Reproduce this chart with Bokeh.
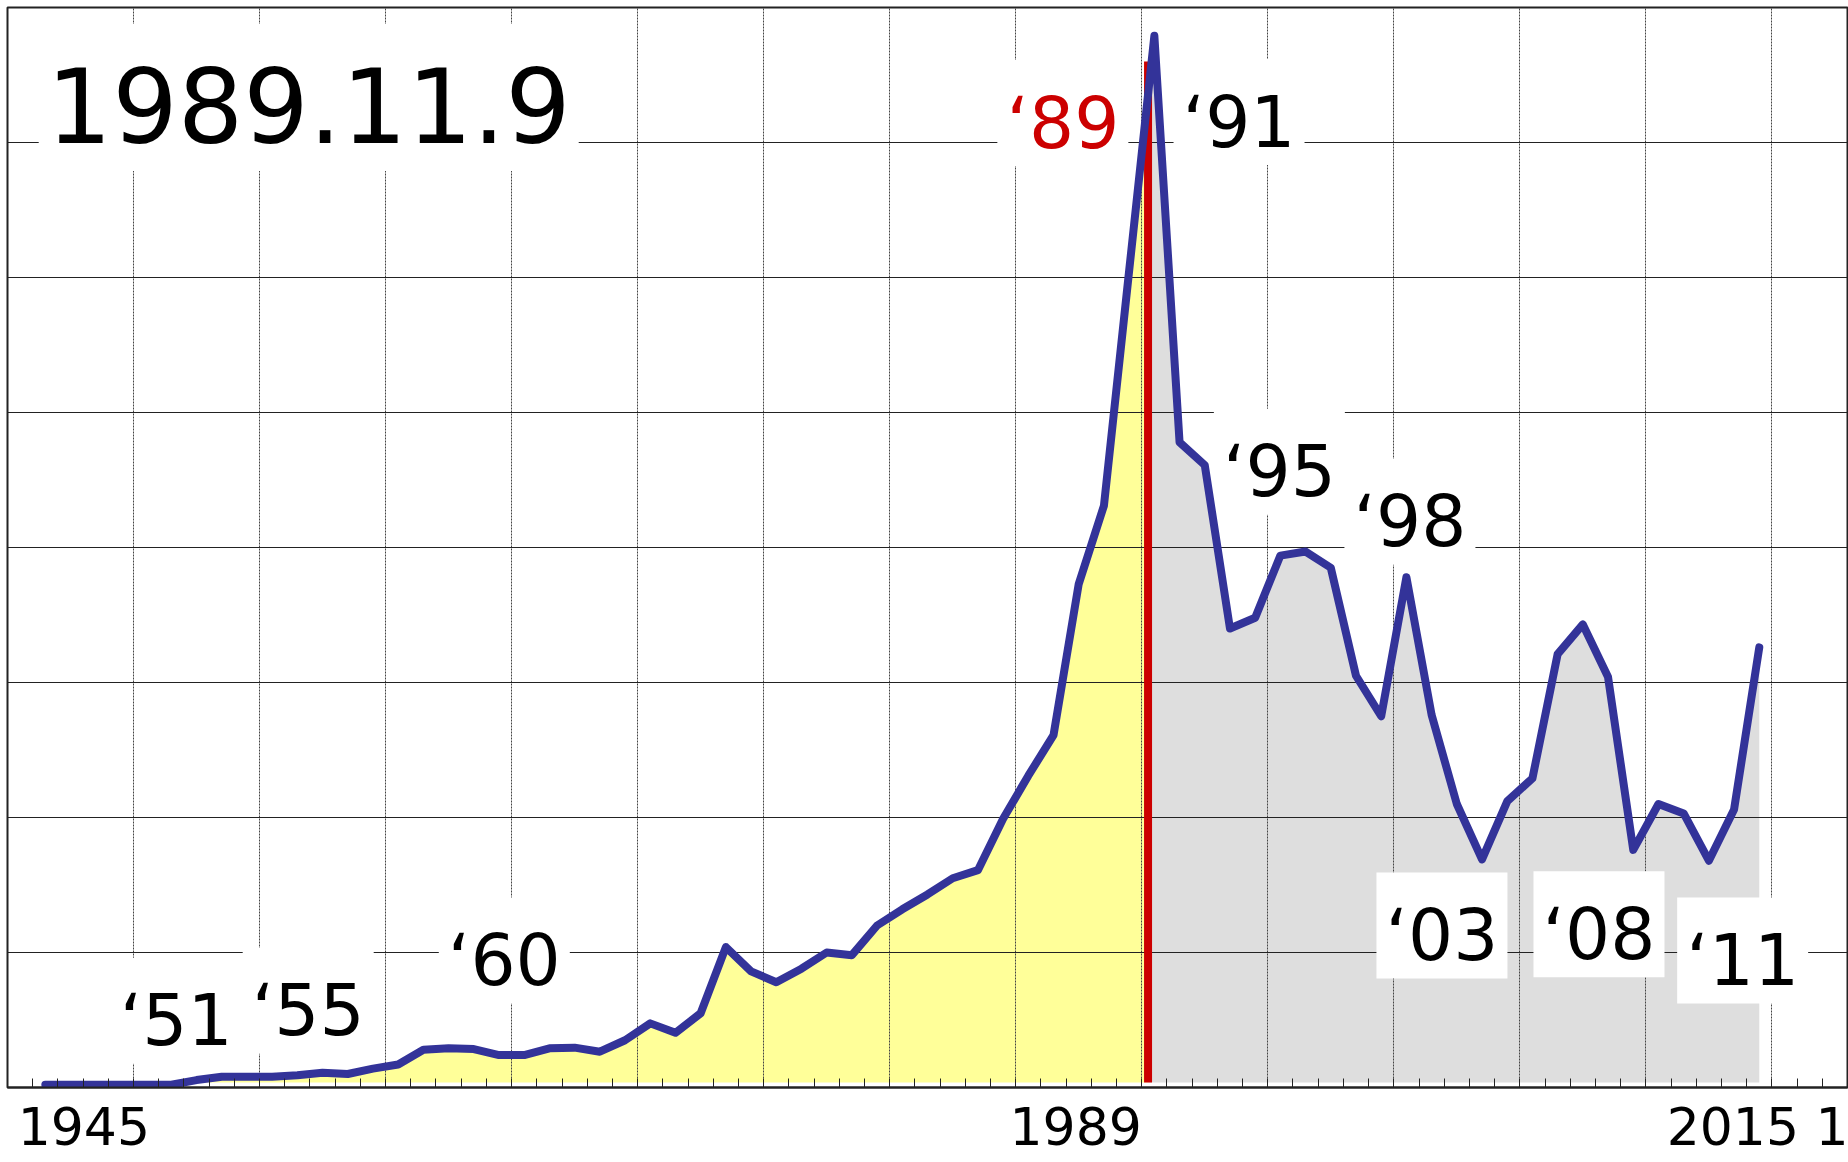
import numpy as np
from bokeh.plotting import figure
from bokeh.models import FixedTicker, Range1d, ColumnDataSource
from bokeh.core.properties import value
from bokeh.embed import file_html
from bokeh.resources import INLINE

# ---------------- data ----------------
years = list(range(1946, 2015))
values = [
    0.02, 0.02, 0.02, 0.02, 0.02, 0.02, 0.055, 0.08, 0.08, 0.08,      # 1946-1955
    0.09, 0.11, 0.10, 0.14, 0.17, 0.28, 0.29, 0.285, 0.24, 0.24,       # 1956-1965
    0.29, 0.295, 0.265, 0.35, 0.475, 0.405, 0.55, 1.04, 0.86, 0.78,    # 1966-1975
    0.88, 1.00, 0.98, 1.20, 1.32, 1.43, 1.55, 1.61, 1.99, 2.31,        # 1976-1985
    2.61, 3.73, 4.31, 6.05, 7.79, 4.78, 4.61, 3.40, 3.48, 3.94,        # 1986-1995
    3.97, 3.85, 3.05, 2.75, 3.78, 2.76, 2.10, 1.69, 2.12, 2.29,        # 1996-2005
    3.21, 3.43, 3.04, 1.76, 2.10, 2.03, 1.68, 2.06, 3.26,              # 2006-2014
]

x_start, x_end = 1945, 2018
grid_years = list(range(1950, 2016, 5))
tick_years = list(range(1946, 2018))
y_grid_values = [1, 2, 3, 4, 5, 6, 7]

axis_label_pos = [1948.03, 1987.38, 2013.45, 2017.4]
axis_label_text = ["1945", "1989", "2015", "1"]

wall_x = 1990.25      # red marker (1989.11.9)
wall_top = 7.6

label_text = ["\u201851", "\u201855", "\u201860", "\u201889", "\u201891",
              "\u201895", "\u201898", "\u201803", "\u201808", "\u201811"]
label_x = [1951.69, 1956.93, 1964.71, 1986.87, 1993.86,
           1995.46, 2000.64, 2001.91, 2008.14, 2013.84]
label_y = [0.324, 0.398, 0.770, 6.974, 6.981,
           4.391, 4.020, 0.955, 0.965, 0.770]
label_color = ["black", "black", "black", "#CC0000", "black",
               "black", "black", "black", "black", "black"]

title_text = "1989.11.9"
title_x = 1956.95
title_y = 6.974

# ---------------- derived geometry ----------------
px = np.array(years, dtype=float) + 0.5          # each year drawn at mid-year
vals = np.array(values, dtype=float)
base = 0.037

left_mask = px < wall_x
yx = np.concatenate([px[left_mask], [wall_x]])
yy = np.concatenate([vals[left_mask], [np.interp(wall_x, px, vals)]])
gx = np.concatenate([[wall_x], px[~left_mask]])
gy = np.concatenate([[np.interp(wall_x, px, vals)], vals[~left_mask]])

W, H = 1848, 1162
p = figure(width=W, height=H, x_range=Range1d(x_start, x_end), y_range=Range1d(0, 8),
           y_axis_location=None, toolbar_location=None, output_backend="svg",
           min_border_left=7, min_border_right=1, min_border_top=7, min_border_bottom=75)
p.background_fill_color = "white"
p.border_fill_color = "white"
p.outline_line_color = "#222222"
p.outline_line_width = 2

# grids
p.xgrid.ticker = FixedTicker(ticks=grid_years)
p.xgrid.grid_line_color = "#444444"
p.xgrid.grid_line_dash = "2 1"
p.xgrid.grid_line_width = 1
p.ygrid.ticker = FixedTicker(ticks=y_grid_values)
p.ygrid.grid_line_color = "#222222"
p.ygrid.grid_line_width = 1

# x axis
ax = p.xaxis[0]
ax.ticker = FixedTicker(ticks=axis_label_pos, minor_ticks=tick_years)
ax.major_label_overrides = dict(zip(axis_label_pos, axis_label_text))
ax.major_label_text_font = "DejaVu Sans"
ax.major_label_text_font_size = "52px"
ax.major_label_text_color = "black"
ax.major_label_standoff = 19
ax.major_tick_in = 0
ax.major_tick_out = 0
ax.minor_tick_in = 9
ax.minor_tick_out = 0
ax.minor_tick_line_color = "#222222"
ax.minor_tick_line_width = 1
ax.axis_line_color = "#222222"
ax.axis_line_width = 2

# areas (under the grid lines)
p.varea(x=yx, y1=np.minimum(base, yy), y2=yy, fill_color="#FFFF99", level="image")
p.varea(x=gx, y1=np.minimum(base, gy), y2=gy, fill_color="#DEDEDE", level="image")

# red marker
p.segment(x0=[wall_x], y0=[base], x1=[wall_x], y1=[wall_top], line_color="#CC0000", line_width=8)

# label boxes
p.rect(x=label_x, y=[v + 0.245 for v in label_y], width=131, height=106,
       width_units="screen", height_units="screen", fill_color="white", line_color=None)
p.rect(x=[title_x], y=[title_y + 0.36], width=540, height=147,
       width_units="screen", height_units="screen", fill_color="white", line_color=None)

# main line
p.line(px, vals, line_color="#333399", line_width=8, line_join="round", line_cap="round")

# texts
src = ColumnDataSource(dict(x=label_x, y=label_y, t=label_text, c=label_color))
p.text(x="x", y="y", text="t", text_color="c", source=src, text_align="center",
       text_baseline="alphabetic", text_font=value("DejaVu Sans"), text_font_size="71px",
       y_offset=-23)
p.text(x=[title_x], y=[title_y], text=[title_text], text_color="black", text_align="center",
       text_baseline="alphabetic", text_font=value("DejaVu Sans"), text_font_size="103px",
       y_offset=-41)

open("out.html", "w").write(file_html(p, INLINE))
